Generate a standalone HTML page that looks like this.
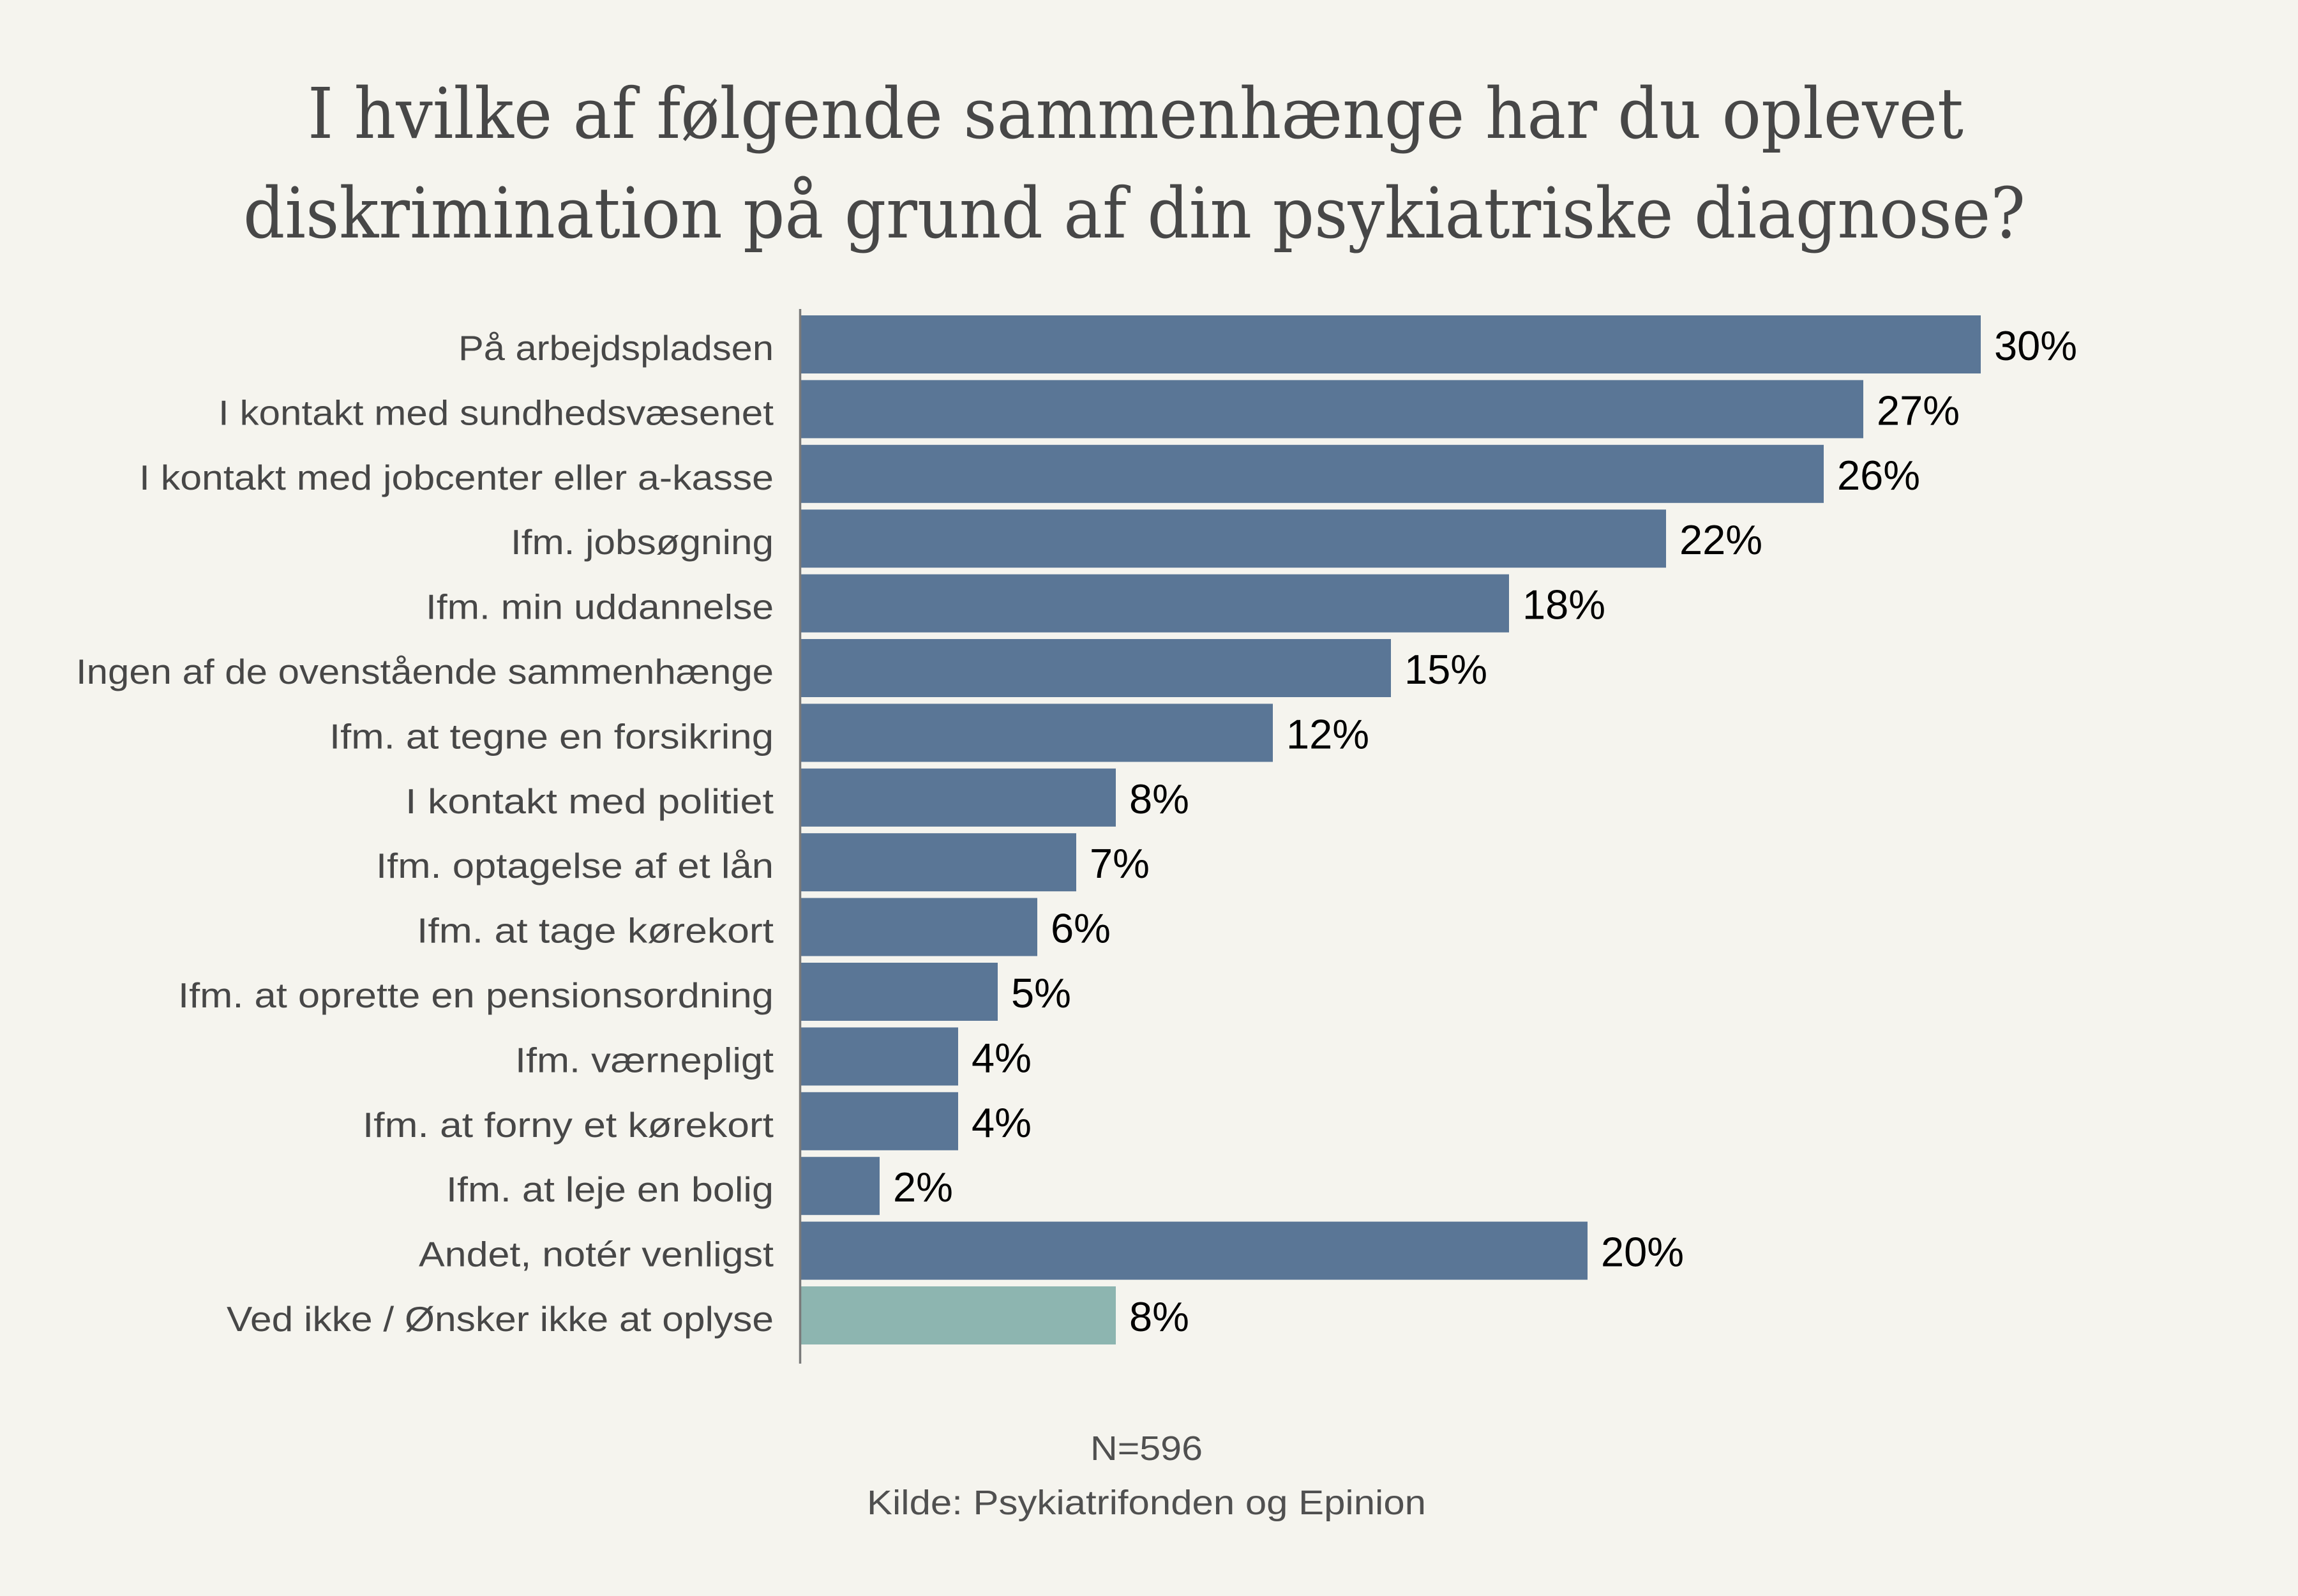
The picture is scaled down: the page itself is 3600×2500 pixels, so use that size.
<!DOCTYPE html>
<html>
<head>
<meta charset="utf-8">
<style>
  html, body { margin: 0; padding: 0; background: #f5f4ee; }
  svg { display: block; }
</style>
</head>
<body>
<svg xmlns="http://www.w3.org/2000/svg" width="3600" height="2500" viewBox="0 0 3600 2500">
  <rect x="0" y="0" width="3600" height="2500" fill="#f5f4ee"/>

  <!-- Title -->
  <g font-family="'DejaVu Serif', 'Liberation Serif', serif" font-size="110" fill="#474747">
    <text x="482" y="216" textLength="2594" lengthAdjust="spacingAndGlyphs">I hvilke af følgende sammenhænge har du oplevet</text>
    <text x="381" y="372" textLength="2792" lengthAdjust="spacingAndGlyphs">diskrimination på grund af din psykiatriske diagnose?</text>
  </g>

  <!-- Bars -->
  <g fill="#5a7696">
    <rect x="1255" y="494" width="1848" height="91"/>
    <rect x="1255" y="595.4" width="1664" height="91"/>
    <rect x="1255" y="696.8" width="1602" height="91"/>
    <rect x="1255" y="798.2" width="1355" height="91"/>
    <rect x="1255" y="899.6" width="1109" height="91"/>
    <rect x="1255" y="1001" width="924" height="91"/>
    <rect x="1255" y="1102.4" width="739" height="91"/>
    <rect x="1255" y="1203.8" width="493" height="91"/>
    <rect x="1255" y="1305.2" width="431" height="91"/>
    <rect x="1255" y="1406.6" width="370" height="91"/>
    <rect x="1255" y="1508" width="308" height="91"/>
    <rect x="1255" y="1609.4" width="246" height="91"/>
    <rect x="1255" y="1710.8" width="246" height="91"/>
    <rect x="1255" y="1812.2" width="123" height="91"/>
    <rect x="1255" y="1913.6" width="1232" height="91"/>
  </g>
  <rect x="1255" y="2015" width="493" height="91" fill="#8db5b0"/>

  <!-- Axis line -->
  <line x1="1253.5" y1="484" x2="1253.5" y2="2136" stroke="#7a7a7a" stroke-width="3.5"/>

  <!-- Category labels -->
  <g font-family="'Liberation Sans', sans-serif" font-size="55" fill="#474747" text-anchor="end">
    <text x="1212" y="564" textLength="494" lengthAdjust="spacingAndGlyphs">På arbejdspladsen</text>
    <text x="1212" y="665.4" textLength="870" lengthAdjust="spacingAndGlyphs">I kontakt med sundhedsvæsenet</text>
    <text x="1212" y="766.8" textLength="994" lengthAdjust="spacingAndGlyphs">I kontakt med jobcenter eller a-kasse</text>
    <text x="1212" y="868.2" textLength="412" lengthAdjust="spacingAndGlyphs">Ifm. jobsøgning</text>
    <text x="1212" y="969.6" textLength="545" lengthAdjust="spacingAndGlyphs">Ifm. min uddannelse</text>
    <text x="1212" y="1071" textLength="1093" lengthAdjust="spacingAndGlyphs">Ingen af de ovenstående sammenhænge</text>
    <text x="1212" y="1172.4" textLength="696" lengthAdjust="spacingAndGlyphs">Ifm. at tegne en forsikring</text>
    <text x="1212" y="1273.8" textLength="577" lengthAdjust="spacingAndGlyphs">I kontakt med politiet</text>
    <text x="1212" y="1375.2" textLength="623" lengthAdjust="spacingAndGlyphs">Ifm. optagelse af et lån</text>
    <text x="1212" y="1476.6" textLength="559" lengthAdjust="spacingAndGlyphs">Ifm. at tage kørekort</text>
    <text x="1212" y="1578" textLength="933" lengthAdjust="spacingAndGlyphs">Ifm. at oprette en pensionsordning</text>
    <text x="1212" y="1679.4" textLength="405" lengthAdjust="spacingAndGlyphs">Ifm. værnepligt</text>
    <text x="1212" y="1780.8" textLength="644" lengthAdjust="spacingAndGlyphs">Ifm. at forny et kørekort</text>
    <text x="1212" y="1882.2" textLength="513" lengthAdjust="spacingAndGlyphs">Ifm. at leje en bolig</text>
    <text x="1212" y="1983.6" textLength="556" lengthAdjust="spacingAndGlyphs">Andet, notér venligst</text>
    <text x="1212" y="2085" textLength="857" lengthAdjust="spacingAndGlyphs">Ved ikke / Ønsker ikke at oplyse</text>
  </g>

  <!-- Value labels -->
  <g font-family="'Liberation Sans', sans-serif" font-size="65" fill="#000000">
    <text x="3124" y="564">30%</text>
    <text x="2940" y="665.4">27%</text>
    <text x="2878" y="766.8">26%</text>
    <text x="2631" y="868.2">22%</text>
    <text x="2385" y="969.6">18%</text>
    <text x="2200" y="1071">15%</text>
    <text x="2015" y="1172.4">12%</text>
    <text x="1769" y="1273.8">8%</text>
    <text x="1707" y="1375.2">7%</text>
    <text x="1646" y="1476.6">6%</text>
    <text x="1584" y="1578">5%</text>
    <text x="1522" y="1679.4">4%</text>
    <text x="1522" y="1780.8">4%</text>
    <text x="1399" y="1882.2">2%</text>
    <text x="2508" y="1983.6">20%</text>
    <text x="1769" y="2085">8%</text>
  </g>

  <!-- Footer -->
  <g font-family="'Liberation Sans', sans-serif" font-size="54" fill="#505050" text-anchor="middle">
    <text x="1796" y="2287" textLength="176" lengthAdjust="spacingAndGlyphs">N=596</text>
    <text x="1796" y="2372" textLength="876" lengthAdjust="spacingAndGlyphs">Kilde: Psykiatrifonden og Epinion</text>
  </g>
</svg>
</body>
</html>
